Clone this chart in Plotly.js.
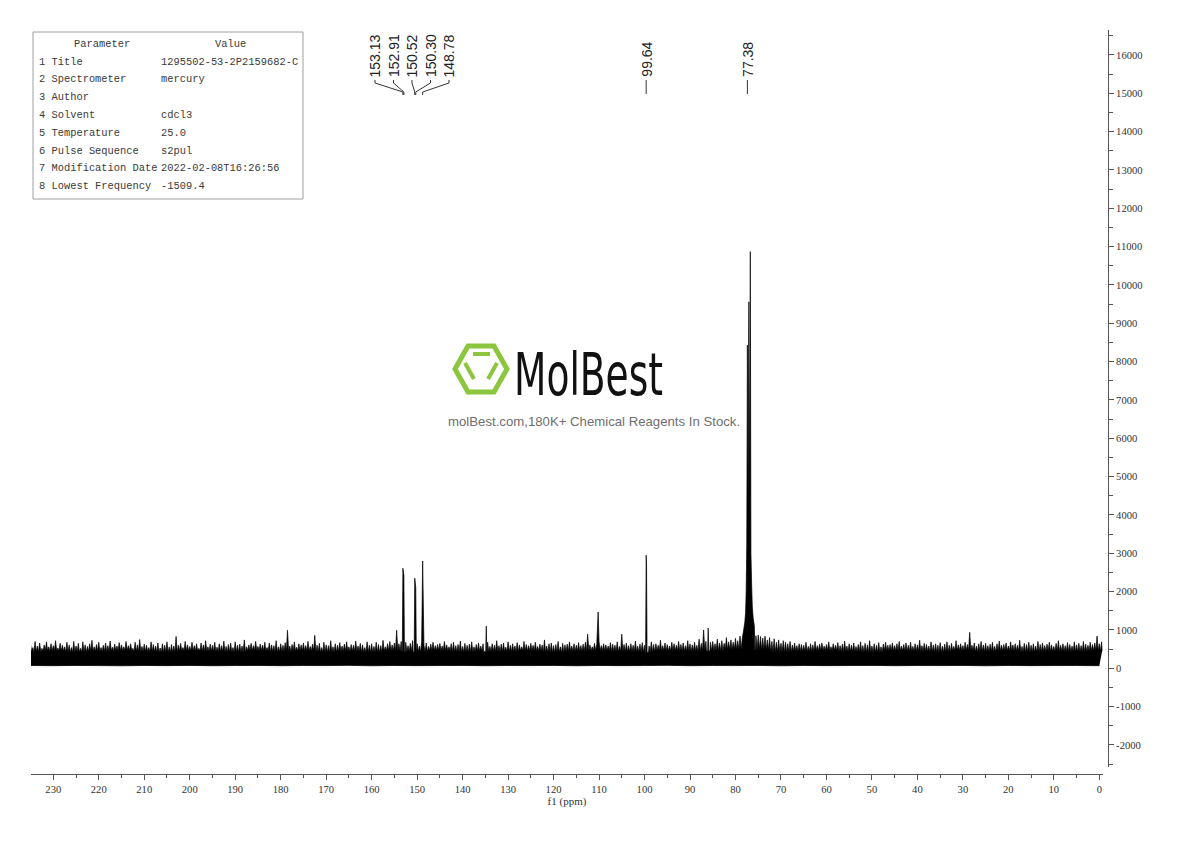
<!DOCTYPE html>
<html><head><meta charset="utf-8">
<script src="https://cdn.plot.ly/plotly-3.0.1.min.js"></script>
<style>html,body{margin:0;padding:0;background:#fff;} #chart{width:1190px;height:841px;}</style>
</head><body><div id="chart"></div>
<script>
// ---------------- data ----------------
const noiseStart = 235;      // ppm of first noise sample
const noiseStep = 0.5;       // ppm between noise samples
const noiseTop = [
620,540,700,580,660,520,610,690,560,640,590,720,530,650,600,560,680,610,540,700,
580,650,520,690,610,570,640,730,560,620,680,540,600,660,590,710,550,630,580,670,
610,560,700,590,640,520,680,610,750,570,630,600,540,690,620,580,660,530,640,600,
690,560,620,580,830,600,650,540,700,610,570,680,590,640,520,660,610,720,560,630,
600,680,550,640,590,710,570,620,660,540,690,600,630,580,740,560,610,650,590,700,
570,630,600,680,540,660,610,590,720,560,640,600,670,990,580,620,690,550,640,610,
660,590,700,570,630,860,600,650,540,680,610,590,720,560,640,600,670,580,630,690,
560,620,600,710,580,650,610,540,690,600,640,570,680,620,590,730,560,640,700,610,
660,990,640,700,620,680,590,650,720,610,640,580,690,600,660,570,630,680,590,620,
650,580,700,610,560,640,680,590,620,710,570,650,600,630,690,560,620,660,580,640,
610,680,570,640,600,720,590,630,660,550,690,600,640,580,670,610,560,700,620,590,
650,600,680,570,630,610,740,580,640,660,590,620,700,560,650,610,630,690,580,640,
600,670,590,630,680,890,610,560,650,620,700,590,640,610,580,670,630,600,690,570,
890,620,660,590,640,600,710,580,630,670,600,650,580,690,620,640,600,730,590,660,
620,580,680,640,600,700,620,660,590,720,640,610,680,600,760,650,1000,700,1050,680,
700,640,760,660,720,650,800,690,740,680,780,720,840,790,860,900,920,900,880,850,
870,830,790,840,740,800,700,770,680,740,650,720,680,640,700,610,660,590,640,620,
600,680,570,640,610,700,590,630,660,580,620,690,560,640,600,670,590,630,710,580,
640,600,660,570,620,690,590,650,610,720,580,640,600,670,560,630,680,600,620,660,
590,640,700,580,620,660,600,680,570,640,610,730,590,650,620,580,690,610,640,600,
670,580,630,690,600,650,570,720,610,640,590,680,620,940,600,660,580,640,700,610,
650,590,630,680,570,640,710,600,620,660,580,690,610,640,600,730,570,650,620,680,
600,640,580,700,620,660,590,630,680,610,570,650,720,600,640,590,670,620,580,690,
610,650,590,700,630,600,680,620,660,840,640,690
];
const bandStep = 5;          // ppm between band-envelope samples (from 235 down to 0)
const bandTop = [430,450,420,440,460,430,410,450,440,420,460,430,450,420,440,410,450,430,460,420,
                 440,430,450,410,440,460,430,420,450,440,450,490,480,420,440,460,430,410,450,440,
                 420,460,430,450,420,440,430,450];
const bandBottom = [72,68,74,70,66,73,69,75,67,71,74,68,72,70,76,66,73,69,71,74,
                    68,72,70,75,66,73,69,71,76,68,72,70,74,66,73,69,71,75,68,72,
                    70,74,66,73,69,71,72,68];
const peakPpm    = [153.13,152.91,150.52,150.30,148.78,134.8,110.2,99.64,99.56,
                    78.2,77.95,77.78,77.65,77.52,77.38,77.22,77.06,76.9,76.74,76.6,76.45,76.3,76.1,75.85];
const peakHeight = [2610,2430,2350,2110,2800,1100,1470,2950,2740,
                    1000,1200,1450,2000,3200,8430,4200,9560,4400,10870,3000,2200,1600,1300,1100];
const labelPpm = [153.13,152.91,150.52,150.30,148.78,99.64,77.38];
const labelText = ['153.13','152.91','150.52','150.30','148.78','99.64','77.38'];
const yTickVals = [-2000,-1000,0,1000,2000,3000,4000,5000,6000,7000,8000,9000,10000,11000,12000,13000,14000,15000,16000];
const yTickText = ['-2000','-1000','0','1000','2000','3000','4000','5000','6000','7000','8000','9000','10000','11000','12000','13000','14000','15000','16000'];
const paramHeader = ['Parameter','Value'];
const paramNames = ['1 Title','2 Spectrometer','3 Author','4 Solvent','5 Temperature','6 Pulse Sequence','7 Modification Date','8 Lowest Frequency'];
const paramValues = ['1295502-53-2P2159682-C','mercury','','cdcl3','25.0','s2pul','2022-02-08T16:26:56','-1509.4'];
const watermarkTitle = 'MolBest';
const watermarkSub = 'molBest.com,180K+ Chemical Reagents In Stock.';

// ---------------- layout geometry (pixels) ----------------
const PL=31, PR=1108, PT=30, PB=774;
const px = v => (v-PL)/(PR-PL);
const py = v => (PB-v)/(PB-PT);
const xDomEnd = px(1103);
const yDomStart = py(767);

// ---------------- build spectrum traces ----------------
const coreAt = x => {
  let j = Math.round((noiseStart - x)/bandStep);
  j = Math.max(0, Math.min(bandTop.length-1, j));
  return bandTop[j];
};
let spikes = [];
noiseTop.forEach((h,i) => {
  const x = noiseStart - i*noiseStep;
  if (!peakPpm.some(p => Math.abs(p-x) < 0.2)) spikes.push({x:x, h:h});
});
peakPpm.forEach((p,i) => spikes.push({x:p, h:peakHeight[i]}));
spikes.sort((a,b) => b.x - a.x);
const hw = 0.12;
let sx = [], sy = [];
let prev = null;
spikes.forEach(s => {
  if (!prev) { sx.push(s.x + hw); sy.push(coreAt(s.x)); }
  else if (prev.x - s.x > 0.3) {
    const big = prev.h > 1000 || s.h > 1000;
    if (big) {
      sx.push(prev.x - hw); sy.push(coreAt(prev.x));
      sx.push(s.x + hw); sy.push(coreAt(s.x));
    } else {
      const m = (prev.x + s.x)/2;
      sx.push(m); sy.push(coreAt(m));
    }
  }
  sx.push(s.x); sy.push(s.h);
  prev = s;
});
sx.push(prev.x - hw); sy.push(coreAt(prev.x));

const bx = bandBottom.map((v,j) => noiseStart - j*bandStep);

const data = [
  {type:'scatter', mode:'lines', x:bx, y:bandBottom, line:{color:'#000', width:0.8, simplify:false}, hoverinfo:'skip'},
  {type:'scatter', mode:'lines', x:sx, y:sy, fill:'tonexty', fillcolor:'#000', line:{color:'#000', width:0.7, simplify:false}, hoverinfo:'skip'}
];

// ---------------- annotations & shapes ----------------
const annotations = [];
const shapes = [];
const mono = 'Liberation Mono, DejaVu Sans Mono, monospace';
const tblFont = {family:mono, size:10.4, color:'#3a3a3a'};
// parameter table
shapes.push({type:'rect', xref:'paper', yref:'paper', x0:px(33), x1:px(303), y0:py(199), y1:py(32), line:{color:'#a0a0a0', width:1}, fillcolor:'rgba(255,255,255,0)', layer:'above'});
annotations.push({xref:'paper', yref:'paper', x:px(102), y:py(44), text:paramHeader[0], showarrow:false, xanchor:'center', yanchor:'middle', font:tblFont});
annotations.push({xref:'paper', yref:'paper', x:px(230), y:py(44), text:paramHeader[1], showarrow:false, xanchor:'center', yanchor:'middle', font:tblFont});
paramNames.forEach((n,i) => {
  const yy = 61.7 + i*17.76;
  annotations.push({xref:'paper', yref:'paper', x:px(37), y:py(yy), text:n, showarrow:false, xanchor:'left', yanchor:'middle', font:tblFont});
  if (paramValues[i]) annotations.push({xref:'paper', yref:'paper', x:px(159), y:py(yy), text:paramValues[i], showarrow:false, xanchor:'left', yanchor:'middle', font:tblFont});
});

// peak labels: group neighbours and spread them
const ppmPerPx = 1/4.548;
const spacing = 18.5*ppmPerPx;
let groups = [];
labelPpm.forEach((p,i) => {
  const g = groups[groups.length-1];
  if (g && Math.abs(labelPpm[g[g.length-1]] - p) < 3) g.push(i); else groups.push([i]);
});
groups.forEach(g => {
  const mean = g.reduce((a,i)=>a+labelPpm[i],0)/g.length;
  g.forEach((i,k) => {
    const p = labelPpm[i];
    const lx = g.length>1 ? mean + ((g.length-1)/2 - k)*spacing : p;
    annotations.push({xref:'x', yref:'paper', x:lx, y:py(79), text:labelText[i], textangle:-90, showarrow:false,
      xanchor:'center', yanchor:'bottom', font:{family:'Liberation Sans, Arial, sans-serif', size:14, color:'#222'}});
    let path;
    if (g.length>1) path = `M ${lx},${py(80)} L ${lx},${py(83)} L ${p},${py(92)} L ${p},${py(95)}`;
    else path = `M ${p},${py(80)} L ${p},${py(94)}`;
    shapes.push({type:'path', xref:'x', yref:'paper', path:path, line:{color:'#333', width:1}, layer:'above'});
  });
});

// watermark logo
const hex = [[455,369],[468,346],[494,346],[507,369],[494,392],[468,392]];
shapes.push({type:'path', xref:'paper', yref:'paper', path:'M '+hex.map(p=>px(p[0])+','+py(p[1])).join(' L ')+' Z', line:{color:'#8cc63f', width:5}, fillcolor:'rgba(0,0,0,0)', layer:'above'});
[[[473,354],[490,354]],[[465,363],[474,379]],[[497,363],[488,379]]].forEach(seg => {
  shapes.push({type:'line', xref:'paper', yref:'paper', x0:px(seg[0][0]), y0:py(seg[0][1]), x1:px(seg[1][0]), y1:py(seg[1][1]), line:{color:'#8cc63f', width:4}, layer:'above'});
});
annotations.push({xref:'paper', yref:'paper', x:px(588.5), y:py(374.5), text:watermarkTitle, showarrow:false, xanchor:'center', yanchor:'middle',
  font:{family:'DejaVu Sans Condensed, DejaVu Sans, sans-serif', size:58, color:'#111'}});
annotations.push({xref:'paper', yref:'paper', x:px(594), y:py(421), text:watermarkSub, showarrow:false, xanchor:'center', yanchor:'middle',
  font:{family:'Liberation Sans, Arial, sans-serif', size:13.2, color:'#6e6e6e'}});

const axisFont = {family:'Liberation Serif, DejaVu Serif, serif', size:10.6, color:'#333'};
const layout = {
  width:1190, height:841,
  margin:{l:PL, r:1190-PR, t:PT, b:841-PB, pad:0},
  paper_bgcolor:'#fff', plot_bgcolor:'#fff', showlegend:false,
  xaxis:{domain:[0,xDomEnd], range:[234.9,-0.81], autorange:false, anchor:'free', position:0,
    showline:true, linecolor:'#555', linewidth:1, ticks:'outside', ticklen:5, tickwidth:1, tickcolor:'#555',
    tickmode:'linear', tick0:0, dtick:10, tickfont:axisFont, showgrid:false, zeroline:false,
    minor:{tickmode:'linear', tick0:0, dtick:5, ticks:'outside', ticklen:3, tickwidth:1, tickcolor:'#555', showgrid:false},
    title:{text:'f1 (ppm)', font:{family:'Liberation Serif, DejaVu Serif, serif', size:11, color:'#333'}, standoff:0}},
  yaxis:{domain:[yDomStart,1], range:[-2575,16650], autorange:false, anchor:'free', position:1, side:'right',
    showline:true, linecolor:'#555', linewidth:1, ticks:'outside', ticklen:5, tickwidth:1, tickcolor:'#555',
    tickmode:'array', tickvals:yTickVals, ticktext:yTickText, tickfont:axisFont, showgrid:false, zeroline:false,
    minor:{tickmode:'linear', tick0:0, dtick:500, ticks:'outside', ticklen:4, tickwidth:1, tickcolor:'#555', showgrid:false}},
  annotations:annotations, shapes:shapes
};

const gd = document.getElementById('chart');
Plotly.newPlot(gd, data, layout, {staticPlot:true, displayModeBar:false}).then(() => {
  gd.querySelectorAll('.annotation-text').forEach(t => {
    if (t.textContent === watermarkTitle) {
      const bb = t.getBBox();
      const cx = bb.x + bb.width/2;
      t.setAttribute('transform', `translate(${cx},0) scale(0.72,1) translate(${-cx},0)`);
    }
  });
});
</script></body></html>
